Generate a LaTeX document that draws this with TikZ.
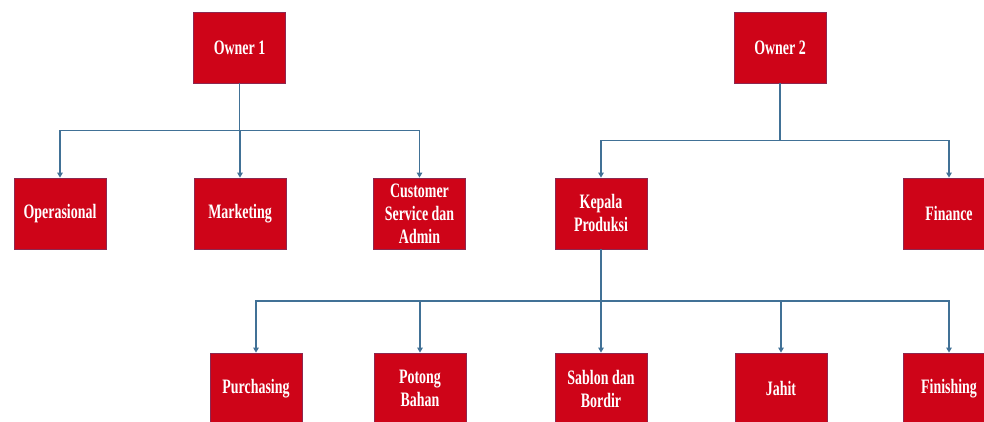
\documentclass[tikz,border=0pt]{standalone}
\usepackage{fontspec}
\setmainfont{Liberation Serif}
\newfontfamily\boxfont[FakeStretch=0.68]{Liberation Serif Bold}
\usetikzlibrary{arrows.meta}
\definecolor{boxred}{RGB}{206,4,24}
\definecolor{boxedge}{RGB}{140,40,80}
\definecolor{linkblue}{RGB}{65,113,150}
\tikzset{
  orgbox/.style={draw=boxedge, line width=0.8pt, fill=boxred, minimum width=92pt, minimum height=71pt,
    inner sep=1pt, align=center, text=white, font=\boxfont\fontsize{20.5}{23}\selectfont},
  link/.style={draw=linkblue, line width=1.2pt},
  arr/.style={link, -{Triangle[width=5.5pt,length=5pt]}}
}
\begin{document}
\begin{tikzpicture}[x=1pt,y=-1pt]
\useasboundingbox (0,0) rectangle (984,421);
% top owners
\node[orgbox] (o1) at (239.5,47.5) {Owner 1};
\node[orgbox] (o2) at (780,47.5) {Owner 2};
% middle row
\node[orgbox] (ops) at (60,213.5) {Operasional};
\node[orgbox] (mkt) at (240,213.5) {Marketing};
\node[orgbox] (cs) at (419.5,213.5) {Customer\\Service dan\\Admin};
\node[orgbox] (kp) at (601,213.5) {Kepala\\Produksi};
\node[orgbox] (fin) at (949,213.5) {Finance};
% bottom row
\node[orgbox] (pur) at (256,388.5) {Purchasing};
\node[orgbox] (pot) at (420,388.5) {Potong\\Bahan};
\node[orgbox] (sab) at (601,388.5) {Sablon dan\\Bordir};
\node[orgbox] (jah) at (781,388.5) {Jahit};
\node[orgbox] (fns) at (949,388.5) {Finishing};
% buses
\coordinate (bus1) at (0,130.5);
\coordinate (bus2) at (0,140.5);
\coordinate (bus3) at (0,301);
\foreach \c in {ops,mkt,cs}{
  \draw[arr] (o1.south) -- (o1.south |- bus1) -| (\c.north);
}
\foreach \c in {kp,fin}{
  \draw[arr] (o2.south) -- (o2.south |- bus2) -| (\c.north);
}
\foreach \c in {pur,pot,sab,jah,fns}{
  \draw[arr] (kp.south) -- (kp.south |- bus3) -| (\c.north);
}
\end{tikzpicture}
\end{document}
